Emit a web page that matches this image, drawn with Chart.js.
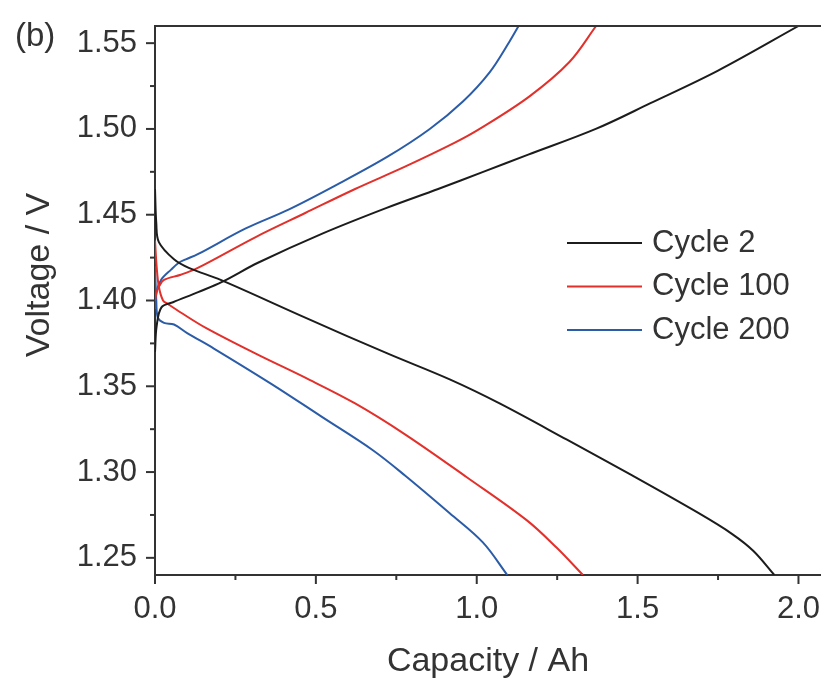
<!DOCTYPE html>
<html>
<head>
<meta charset="utf-8">
<script src="https://cdn.jsdelivr.net/npm/chart.js@4.4.1/dist/chart.umd.min.js"></script>
<style>
  html, body { margin: 0; padding: 0; background: #fff; overflow: hidden; }
  #wrap { width: 821px; height: 680px; }
</style>
</head>
<body>
<div id="wrap"><canvas id="voltChart" width="821" height="680"></canvas></div>
<script>
// --- data (capacity in Ah, voltage in V) ---
const cycleLabels = ["Cycle 2", "Cycle 100", "Cycle 200"];

const cycle2ChargeCap = [0, 0.005, 0.02, 0.056, 0.136, 0.21, 0.32, 0.52, 0.72, 0.88, 1.02, 1.16, 1.37, 1.54, 1.75, 2.0];
const cycle2ChargeV   = [1.37, 1.385, 1.396, 1.399, 1.405, 1.411, 1.422, 1.439, 1.454, 1.465, 1.475, 1.485, 1.500, 1.515, 1.534, 1.56];
const cycle2DischCap  = [0, 0.004, 0.012, 0.059, 0.105, 0.204, 0.467, 0.724, 0.916, 1.071, 1.279, 1.483, 1.69, 1.793, 1.86, 1.925];
const cycle2DischV    = [1.465, 1.445, 1.434, 1.424, 1.419, 1.412, 1.390, 1.369, 1.354, 1.340, 1.319, 1.298, 1.276, 1.264, 1.254, 1.240];

const cycle100ChargeCap = [0, 0.005, 0.012, 0.028, 0.08, 0.133, 0.313, 0.467, 0.622, 0.777, 0.932, 1.009, 1.164, 1.288, 1.371];
const cycle100ChargeV   = [1.40, 1.405, 1.408, 1.412, 1.415, 1.419, 1.437, 1.451, 1.465, 1.478, 1.492, 1.500, 1.519, 1.539, 1.56];
const cycle100DischCap  = [0, 0.005, 0.012, 0.025, 0.04, 0.08, 0.158, 0.313, 0.467, 0.622, 0.777, 0.969, 1.155, 1.248, 1.33];
const cycle100DischV    = [1.435, 1.42, 1.408, 1.400, 1.398, 1.393, 1.384, 1.369, 1.355, 1.340, 1.322, 1.297, 1.272, 1.256, 1.240];

const cycle200ChargeCap = [0, 0.005, 0.019, 0.05, 0.074, 0.096, 0.133, 0.282, 0.415, 0.56, 0.724, 0.854, 0.957, 1.04, 1.102, 1.13];
const cycle200ChargeV   = [1.395, 1.405, 1.412, 1.418, 1.422, 1.424, 1.427, 1.442, 1.453, 1.467, 1.484, 1.500, 1.516, 1.533, 1.551, 1.56];
const cycle200DischCap  = [0, 0.004, 0.009, 0.028, 0.059, 0.1, 0.183, 0.365, 0.52, 0.675, 0.777, 0.916, 1.019, 1.095];
const cycle200DischV    = [1.42, 1.40, 1.390, 1.387, 1.386, 1.381, 1.372, 1.351, 1.332, 1.313, 1.298, 1.276, 1.259, 1.240];

// axis ticks
const xMajorTicks = [0, 0.5, 1.0, 1.5, 2.0];
const xTickLabels = ["0.0", "0.5", "1.0", "1.5", "2.0"];
const xMinorTicks = [0.25, 0.75, 1.25, 1.75];
const yMajorTicks = [1.25, 1.30, 1.35, 1.40, 1.45, 1.50, 1.55];
const yTickLabels = ["1.25", "1.30", "1.35", "1.40", "1.45", "1.50", "1.55"];
const yMinorTicks = [1.275, 1.325, 1.375, 1.425, 1.475, 1.525];

// --- styling ---
const FONT = "'Liberation Sans', Arial, sans-serif";
const TEXT_COLOR = "#333";
const AXIS_COLOR = "#333";
const cycleColors = ["#1c1c1c", "#e2302b", "#2b5ca8"];

function toPoints(xs, ys) {
  return xs.map((x, i) => ({ x: x, y: ys[i] }));
}

function lineSet(label, xs, ys, color) {
  return {
    label: label,
    data: toPoints(xs, ys),
    borderColor: color,
    backgroundColor: color,
    borderWidth: 2,
    pointRadius: 0,
    fill: false,
    tension: 0.35,
  };
}

const datasets = [
  lineSet(cycleLabels[0], cycle2ChargeCap, cycle2ChargeV, cycleColors[0]),
  lineSet(cycleLabels[0], cycle2DischCap, cycle2DischV, cycleColors[0]),
  lineSet(cycleLabels[1], cycle100ChargeCap, cycle100ChargeV, cycleColors[1]),
  lineSet(cycleLabels[1], cycle100DischCap, cycle100DischV, cycleColors[1]),
  lineSet(cycleLabels[2], cycle200ChargeCap, cycle200ChargeV, cycleColors[2]),
  lineSet(cycleLabels[2], cycle200DischCap, cycle200DischV, cycleColors[2]),
];

// top spine + outward tick marks (major and minor)
const frameTicks = {
  id: "frameTicks",
  afterDraw(chart) {
    const { ctx, chartArea: a, scales: { x, y } } = chart;
    ctx.save();
    ctx.strokeStyle = AXIS_COLOR;
    ctx.lineWidth = 2;
    const seg = (x1, y1, x2, y2) => {
      ctx.beginPath();
      ctx.moveTo(x1, y1);
      ctx.lineTo(x2, y2);
      ctx.stroke();
    };
    seg(a.left - 1, a.top, a.right, a.top);
    yMajorTicks.forEach((v) => { const p = y.getPixelForValue(v); seg(a.left - 9, p, a.left, p); });
    yMinorTicks.forEach((v) => { const p = y.getPixelForValue(v); seg(a.left - 5, p, a.left, p); });
    xMajorTicks.forEach((v) => { const p = x.getPixelForValue(v); seg(p, a.bottom, p, a.bottom + 9); });
    xMinorTicks.forEach((v) => { const p = x.getPixelForValue(v); seg(p, a.bottom, p, a.bottom + 5); });
    ctx.restore();
  },
};

// legend inside the plot, y-axis title and panel tag
const annotations = {
  id: "annotations",
  afterDraw(chart) {
    const { ctx } = chart;
    ctx.save();
    ctx.fillStyle = TEXT_COLOR;

    ctx.font = "33px " + FONT;
    ctx.textAlign = "left";
    ctx.textBaseline = "alphabetic";
    ctx.fillText("(b)", 15, 46);

    ctx.save();
    ctx.font = "34px " + FONT;
    ctx.translate(40, 275);
    ctx.rotate(-Math.PI / 2);
    ctx.textAlign = "center";
    ctx.textBaseline = "middle";
    ctx.fillText("Voltage / V", 0, 0);
    ctx.restore();

    const seen = [];
    chart.data.datasets.forEach((ds) => {
      if (seen.some((s) => s.label === ds.label)) return;
      seen.push({ label: ds.label, color: ds.borderColor });
    });
    ctx.font = "31px " + FONT;
    ctx.textBaseline = "middle";
    ctx.textAlign = "left";
    seen.forEach((item, i) => {
      const ly = 243 + i * 43.5;
      ctx.strokeStyle = item.color;
      ctx.lineWidth = 2;
      ctx.beginPath();
      ctx.moveTo(567, ly);
      ctx.lineTo(642, ly);
      ctx.stroke();
      ctx.fillStyle = TEXT_COLOR;
      ctx.fillText(item.label, 652, ly);
    });
    ctx.restore();
  },
};

const ctx = document.getElementById("voltChart").getContext("2d");
new Chart(ctx, {
  type: "line",
  data: { datasets: datasets },
  options: {
    responsive: false,
    animation: false,
    layout: { padding: { top: 26, right: 0, left: 0, bottom: 0 } },
    plugins: {
      legend: { display: false },
      tooltip: { enabled: false },
    },
    scales: {
      x: {
        type: "linear",
        min: 0,
        max: 2.07,
        afterBuildTicks: (scale) => { scale.ticks = xMajorTicks.map((v) => ({ value: v })); },
        afterFit: (scale) => {
          scale.height = 105;
          scale.paddingLeft = 0;
          scale.paddingRight = 0;
        },
        grid: { display: false, drawTicks: false },
        border: { display: true, color: AXIS_COLOR, width: 2 },
        ticks: {
          autoSkip: false,
          maxRotation: 0,
          padding: 16,
          color: TEXT_COLOR,
          font: { family: FONT, size: 31 },
          callback: (value, index) => xTickLabels[index],
        },
        title: {
          display: true,
          text: "Capacity / Ah",
          color: TEXT_COLOR,
          font: { family: FONT, size: 34, lineHeight: 1 },
          padding: { top: 0, bottom: 1 },
        },
      },
      y: {
        type: "linear",
        min: 1.24,
        max: 1.56,
        afterBuildTicks: (scale) => { scale.ticks = yMajorTicks.map((v) => ({ value: v })); },
        afterFit: (scale) => {
          scale.width = 155;
          scale.paddingTop = 0;
          scale.paddingBottom = 0;
        },
        grid: { display: false, drawTicks: false },
        border: { display: true, color: AXIS_COLOR, width: 2 },
        ticks: {
          autoSkip: false,
          padding: 18,
          color: TEXT_COLOR,
          font: { family: FONT, size: 31 },
          callback: (value, index) => yTickLabels[index],
        },
      },
    },
  },
  plugins: [frameTicks, annotations],
});
</script>
</body>
</html>
